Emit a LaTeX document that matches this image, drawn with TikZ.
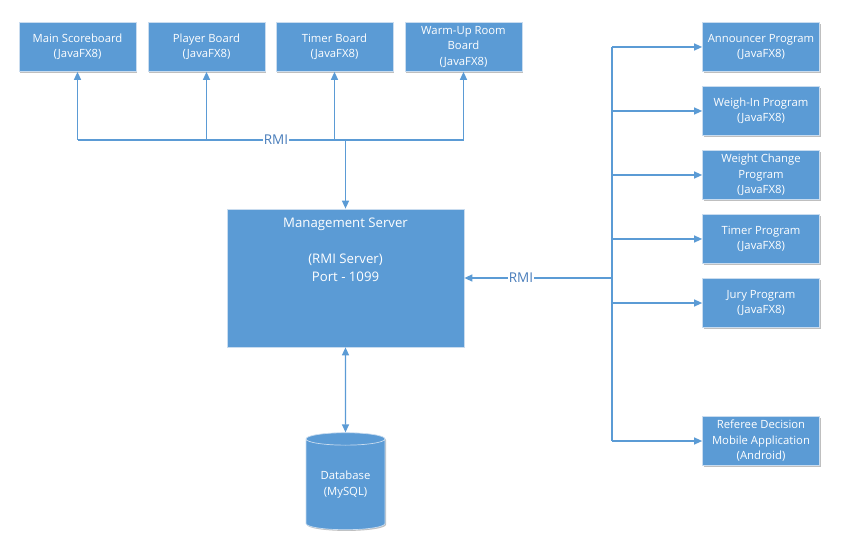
\documentclass[tikz,border=0pt]{standalone}
\usepackage{fontspec}
\setmainfont{Open Sans}
\usetikzlibrary{arrows.meta,shapes.geometric,shadows}
\definecolor{boxblue}{HTML}{5B9BD5}
\definecolor{lineblue}{HTML}{5B9BD5}
\definecolor{txtblue}{HTML}{4A7EBB}
\definecolor{edge}{HTML}{C9DCEF}
\tikzset{
  box/.style={fill=boxblue, draw=edge, line width=0.7pt, text=white, align=center,
    minimum width=117pt, minimum height=49pt, inner sep=1pt,
    font=\fontsize{11.3}{15.5}\selectfont,
    drop shadow={shadow xshift=1pt, shadow yshift=-1.2pt, opacity=0.25, fill=black}},
  conn/.style={draw=lineblue, line width=1.3pt},
  arr/.style={conn, -{Triangle[length=8pt,width=7pt]}},
  darr/.style={conn, {Triangle[length=8pt,width=7pt]}-{Triangle[length=8pt,width=7pt]}},
  rmi/.style={fill=white, text=txtblue, inner sep=1pt, font=\fontsize{13.5}{15}\selectfont},
}
\begin{document}
\begin{tikzpicture}[x=1pt,y=-1pt]
\useasboundingbox (0,0) rectangle (847,559);
% top boards
\node[box] (b1) at (77.5,47) {Main Scoreboard\\(JavaFX8)};
\node[box] (b2) at (206.5,47) {Player Board\\(JavaFX8)};
\node[box] (b3) at (334.5,47) {Timer Board\\(JavaFX8)};
\node[box] (b4) at (463.5,47) {Warm-Up Room\\Board\\(JavaFX8)};
% server
\node[box, minimum width=237pt, minimum height=138pt] (srv) at (345.5,278) {};
\node[anchor=north, text=white, align=center, inner sep=0pt,
  font=\fontsize{13.2}{18}\selectfont] (srvtxt) at ([yshift=-9pt]srv.north)
  {Management Server\\[18pt](RMI Server)\\Port - 1099};
% database
\node[cylinder, shape border rotate=90, aspect=0.25, minimum width=79pt, minimum height=97pt,
  fill=boxblue, draw=edge, line width=0.7pt, text=white, align=center, inner sep=0pt,
  font=\fontsize{11.3}{16}\selectfont,
  drop shadow={shadow xshift=1pt, shadow yshift=-1.2pt, opacity=0.25, fill=black}] (db) at (345.5,484.5) {Database\\(MySQL)};
% right programs
\node[box] (p1) at (761,47) {Announcer Program\\(JavaFX8)};
\node[box] (p2) at (761,111) {Weigh-In Program\\(JavaFX8)};
\node[box] (p3) at (761,175) {Weight Change\\Program\\(JavaFX8)};
\node[box] (p4) at (761,239) {Timer Program\\(JavaFX8)};
\node[box] (p5) at (761,303) {Jury Program\\(JavaFX8)};
\node[box] (p6) at (761,441) {Referee Decision\\Mobile Application\\(Android)};
% top bus
\coordinate (busL) at (b1.south |- 0,140);
\coordinate (busR) at (b4.south |- 0,140);
\coordinate (busS) at (srv.north |- 0,140);
\draw[conn] (busL) -- (busR);
\draw[arr] (busL) -- (b1.south);
\draw[arr] (b2.south |- busL) -- (b2.south);
\draw[arr] (b3.south |- busL) -- (b3.south);
\draw[arr] (busR) -- (b4.south);
\draw[arr] (busS) -- (srv.north);
\node[rmi] (rmi1) at (276,140) {RMI};
% right bus
\coordinate (vT) at (612,0 |- p1.west);
\coordinate (vB) at (612,0 |- p6.west);
\coordinate (vM) at (612,0 |- srv.east);
\draw[conn] (vT) -- (vB);
\draw[arr] (vT) -- (p1.west);
\draw[arr] (vT |- p2.west) -- (p2.west);
\draw[arr] (vT |- p3.west) -- (p3.west);
\draw[arr] (vT |- p4.west) -- (p4.west);
\draw[arr] (vT |- p5.west) -- (p5.west);
\draw[arr] (vB) -- (p6.west);
\draw[arr] (vM) -- (srv.east);
\node[rmi] (rmi2) at (521,278) {RMI};
% server - database
\draw[darr] (srv.south) -- (db.north);
\end{tikzpicture}
\end{document}
